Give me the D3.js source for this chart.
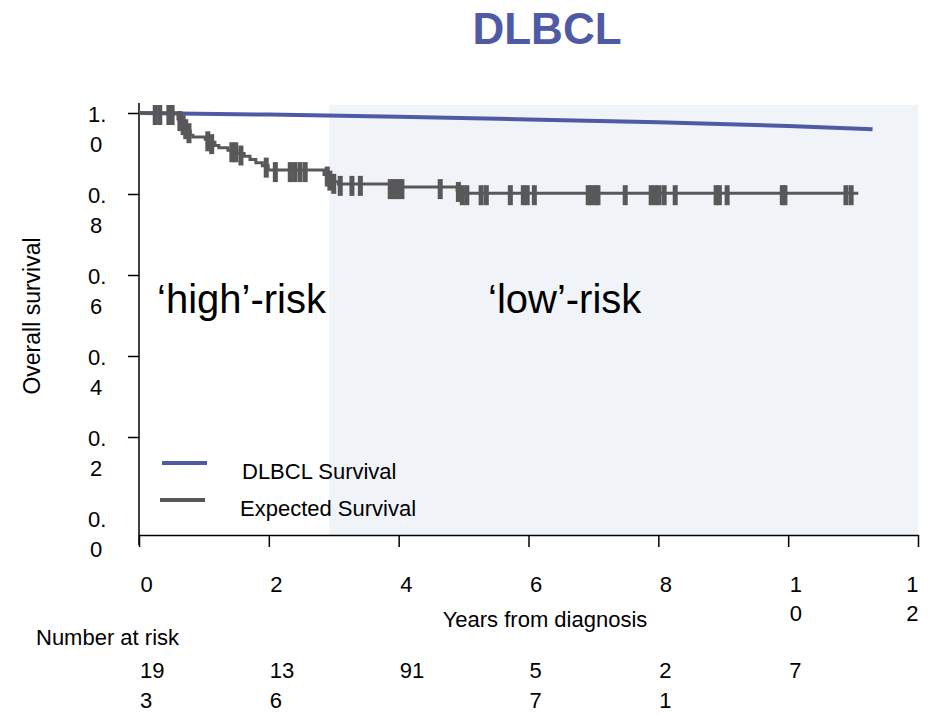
<!DOCTYPE html>
<html lang="en">
    <head>
        <meta charset="utf-8">
        <title>DLBCL survival</title>
        <script type="text/javascript" src="https://d3js.org/d3.v7.min.js"></script>
        <style type="text/css">
            body{ margin: 0; background: #fff; }
            text{ font-family: "Liberation Sans", Arial, sans-serif; fill: #000; }
            .axis path, .axis line{ stroke: #000; stroke-width: 1.5px; }
        </style>
    </head>
    <body>
        <svg id="chart" width="932" height="715"></svg>
        <script type="text/javascript">
        //data
        const yearTicks = [0, 2, 4, 6, 8, 10, 12];
        const survTicks = [0, 0.2, 0.4, 0.6, 0.8, 1.0];
        const riskLines = [["19","3"], ["13","6"], ["91"], ["5","7"], ["2","1"], ["7"]];

        //smooth curve (blue)
        const expT = [0, 2, 4, 6, 8, 10, 11.3];
        const expS = [1.0, 0.996, 0.991, 0.984, 0.977, 0.968, 0.960];

        //step curve (gray): times of drops and survival after each drop
        const kmT = [0, 0.60, 0.65, 0.69, 0.74, 0.79, 0.83, 1.02, 1.09, 1.17, 1.23, 1.37, 1.51, 1.62, 1.71, 1.80, 1.90, 1.99, 2.85, 2.91, 2.99, 3.07, 3.87, 4.90, 4.95];
        const kmS = [1.0, 0.985, 0.975, 0.965, 0.955, 0.945, 0.941, 0.935, 0.928, 0.920, 0.914, 0.908, 0.900, 0.893, 0.885, 0.877, 0.870, 0.859, 0.848, 0.838, 0.830, 0.825, 0.817, 0.810, 0.802];
        const kmEnd = 11.08;
        const censorT = [0.25, 0.32, 0.46, 0.51, 0.63, 0.68, 0.72, 0.77, 1.06, 1.12, 1.43, 1.49, 1.57, 1.96, 2.10, 2.33, 2.40, 2.48, 2.56,
                         2.90, 2.94, 3.00, 3.10, 3.28, 3.41, 3.87, 3.93, 3.99, 4.05, 4.64, 4.92, 4.98, 5.05, 5.27, 5.35, 5.72, 5.92,
                         5.98, 6.09, 6.92, 6.96, 7.03, 7.07, 7.49, 7.89, 7.95, 8.01, 8.09, 8.26, 8.89, 8.94, 9.06, 9.91, 9.95, 10.89, 10.97];

        //low-risk shaded window
        const lowRiskFrom = 2.93, lowRiskTo = 12, shadeTop = 1.02;

        const svg = d3.select("#chart");
        const blue = "#4e5aa6", gray = "#585858";

        const x = d3.scaleLinear().domain([0, 12]).range([139, 918]);
        const y = d3.scaleLinear().domain([0, 1]).range([518, 113]);
        const axisY = 535;

        //shaded area
        svg.append("rect")
            .attr("x", x(lowRiskFrom))
            .attr("y", y(shadeTop))
            .attr("width", x(lowRiskTo) - x(lowRiskFrom))
            .attr("height", axisY - y(shadeTop))
            .attr("fill", "#f0f4f9");

        //title
        svg.append("text")
            .attr("x", 547).attr("y", 44)
            .attr("text-anchor", "middle")
            .style("font-size", "44px").style("font-weight", "bold")
            .style("fill", blue)
            .text("DLBCL");

        //y axis
        const yAxis = svg.append("g")
            .attr("class", "axis")
            .attr("transform", `translate(${x(0)},0)`)
            .call(d3.axisLeft(y).tickValues(survTicks).tickSize(11).tickSizeOuter(0).tickFormat(d => d.toFixed(1)));
        yAxis.select(".domain").remove();
        yAxis.selectAll(".tick").filter(d => d === 0).select("line").remove();
        yAxis.append("line")
            .attr("x1", 0).attr("x2", 0)
            .attr("y1", y(1.025)).attr("y2", axisY + 10)
            .attr("stroke", "#000").attr("stroke-width", 1.5);
        yAxis.selectAll(".tick text").each(function(d){
            const t = d3.select(this);
            const s = d.toFixed(1);
            t.text(null)
             .attr("x", -51).attr("dy", null).attr("y", 8)
             .attr("text-anchor", "start")
             .style("font-size", "22px").attr("fill", "#000");
            t.append("tspan").attr("x", -51).attr("dy", 0).text(s.slice(0, 2));
            t.append("tspan").attr("x", -49).attr("dy", 30).text(s.slice(2));
        });

        //x axis
        const xAxis = svg.append("g")
            .attr("class", "axis")
            .attr("transform", `translate(0,${axisY})`)
            .call(d3.axisBottom(x).tickValues(yearTicks).tickSize(12).tickSizeOuter(0));
        xAxis.selectAll(".tick text").each(function(d, i){
            const t = d3.select(this);
            const s = String(d);
            const last = i === yearTicks.length - 1;
            t.text(null)
             .attr("dy", null).attr("y", 57)
             .attr("text-anchor", last ? "end" : "start")
             .style("font-size", "22px").attr("fill", "#000");
            s.split("").forEach((c, j) => {
                t.append("tspan").attr("x", last ? 0 : 1).attr("dy", j ? 29 : 0).text(c);
            });
        });

        //axis titles
        svg.append("text")
            .attr("x", 545).attr("y", 627)
            .attr("text-anchor", "middle")
            .style("font-size", "22px")
            .text("Years from diagnosis");
        svg.append("text")
            .attr("transform", "translate(40,316) rotate(-90)")
            .attr("text-anchor", "middle")
            .style("font-size", "23px")
            .text("Overall survival");

        //risk labels
        svg.append("text")
            .attr("x", 36).attr("y", 645)
            .style("font-size", "22px")
            .text("Number at risk");
        riskLines.forEach((lines, i) => {
            lines.forEach((s, j) => {
                svg.append("text")
                    .attr("x", x(yearTicks[i]) + 1)
                    .attr("y", 678 + j * 30)
                    .style("font-size", "22px")
                    .text(s);
            });
        });

        //region labels
        svg.append("text").attr("x", 157).attr("y", 313).style("font-size", "40px").text("\u2018high\u2019-risk");
        svg.append("text").attr("x", 488).attr("y", 313).style("font-size", "40px").text("\u2018low\u2019-risk");

        //blue curve
        const expData = expT.map((t, i) => [t, expS[i]]);
        svg.append("path")
            .datum(expData)
            .attr("fill", "none")
            .attr("stroke", blue)
            .attr("stroke-width", 4)
            .attr("d", d3.line().x(d => x(d[0])).y(d => y(d[1])));

        //gray step curve
        const kmData = kmT.map((t, i) => [t, kmS[i]]);
        kmData.push([kmEnd, kmS[kmS.length - 1]]);
        svg.append("path")
            .datum(kmData)
            .attr("fill", "none")
            .attr("stroke", gray)
            .attr("stroke-width", 3)
            .attr("d", d3.line().curve(d3.curveStepAfter).x(d => x(d[0])).y(d => y(d[1])));

        const survAt = t => kmS[d3.bisectRight(kmT, t) - 1];
        svg.append("g").selectAll("rect")
            .data(censorT)
            .join("rect")
            .attr("x", d => x(d) - 2.5)
            .attr("y", d => y(survAt(d)) - 8)
            .attr("width", 5)
            .attr("height", 20)
            .attr("fill", gray);

        //legend
        const legend = [["DLBCL Survival", blue, 463, 162], ["Expected Survival", gray, 500, 160]];
        legend.forEach(([label, col, ly, lx]) => {
            svg.append("line")
                .attr("x1", lx).attr("x2", lx + 45)
                .attr("y1", ly).attr("y2", ly)
                .attr("stroke", col).attr("stroke-width", 4);
            svg.append("text")
                .attr("x", lx + 80).attr("y", ly + 16)
                .style("font-size", "22px")
                .text(label);
        });
        </script>
    </body>
</html>
